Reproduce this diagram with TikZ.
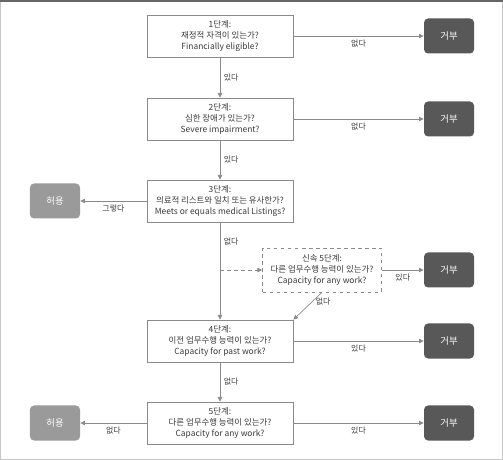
\documentclass[tikz,border=0pt]{standalone}
\usepackage{fontspec}
\setmainfont{Noto Sans CJK KR}
\usepackage{xcolor}
\usetikzlibrary{arrows.meta}
\definecolor{linegray}{HTML}{8A8A8A}
\definecolor{textgray}{HTML}{3A3A3A}
\definecolor{rejectgray}{HTML}{585858}
\definecolor{allowgray}{HTML}{9A9A9A}

\begin{document}
\begin{tikzpicture}[x=0.03cm,y=-0.03cm,
    stepbox/.style={draw=linegray,line width=0.6pt,fill=white,align=center,text=textgray,
      minimum width=4.38cm,minimum height=1.26cm,inner sep=1pt,font=\fontsize{7.2}{9.2}\selectfont},
    fastbox/.style={stepbox,dashed,minimum width=3.57cm,minimum height=1.32cm},
    rej/.style={rounded corners=3.5pt,fill=rejectgray,text=white,minimum width=1.5cm,minimum height=1.05cm,font=\fontsize{8}{9}\selectfont},
    alw/.style={rej,fill=allowgray},
    arr/.style={-{Triangle[length=1.4mm,width=1.3mm]},draw=linegray,line width=0.6pt},
    lbl/.style={text=textgray,font=\fontsize{6.8}{8}\selectfont,inner sep=3pt}
]
\useasboundingbox (0,0) rectangle (503,460);
% frame
\draw[gray!45,line width=0.8pt] (0.5,0.5) rectangle (502.5,459.5);
\draw[gray!80!black,line width=1pt] (0,1) -- (503,1);

% steps
\node[stepbox] (b1) at (220,36) {1단계:\\재정적 자격이 있는가?\\Financially eligible?};
\node[stepbox] (b2) at (220,119) {2단계:\\심한 장애가 있는가?\\Severe impairment?};
\node[stepbox] (b3) at (220,201) {3단계:\\의료적 리스트와 일치 또는 유사한가?\\Meets or equals medical Listings?};
\node[fastbox] (s5) at (322,270) {신속 5단계:\\다른 업무수행 능력이 있는가?\\Capacity for any work?};
\node[stepbox] (b4) at (220,341) {4단계:\\이전 업무수행 능력이 있는가?\\Capacity for past work?};
\node[stepbox] (b5) at (220,423) {5단계:\\다른 업무수행 능력이 있는가?\\Capacity for any work?};

% outcomes
\node[rej] (r1) at (449,36) {거부};
\node[rej] (r2) at (449,119) {거부};
\node[rej] (r3) at (449,270) {거부};
\node[rej] (r4) at (449,341) {거부};
\node[rej] (r5) at (449,423) {거부};
\node[alw] (a1) at (55,201) {허용};
\node[alw] (a2) at (55,423) {허용};
\coordinate (sp) at (220,270);

% connectors
\draw[arr] (b1) -- (b2) node[lbl,midway,right] {있다};
\draw[arr] (b2) -- (b3) node[lbl,midway,right] {있다};
\draw[arr] (b3) -- (b4) node[lbl,pos=0.2,right] {없다};
\draw[arr] (b4) -- (b5) node[lbl,midway,right] {없다};
\draw[arr] (b1) -- (r1) node[lbl,midway,below] {없다};
\draw[arr] (b2) -- (r2) node[lbl,midway,below] {없다};
\draw[arr] (b3) -- (a1) node[lbl,midway,below] {그렇다};
\draw[arr,dashed] (sp) -- (s5);
\draw[arr] (s5) -- (r3) node[lbl,midway,below] {있다};
\draw[arr] (s5.south) -- (b4.north east) node[lbl,pos=0.35,right] {없다};
\draw[arr] (b4) -- (r4) node[lbl,midway,below] {있다};
\draw[arr] (b5) -- (r5) node[lbl,midway,below] {있다};
\draw[arr] (b5) -- (a2) node[lbl,midway,below] {없다};
\end{tikzpicture}
\end{document}
